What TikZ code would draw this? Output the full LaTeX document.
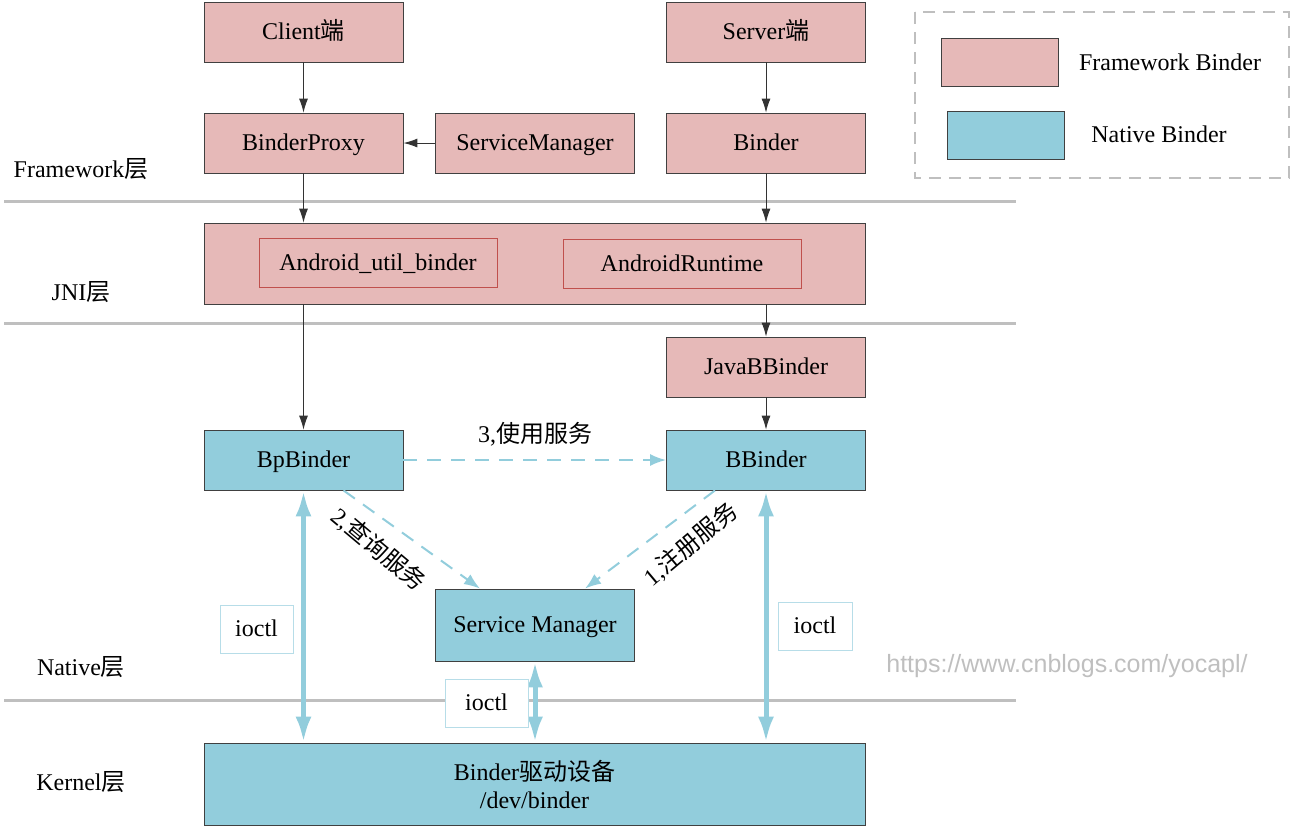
\documentclass[tikz,border=0pt]{standalone}
\usepackage{fontspec}
\setmainfont{Liberation Serif}
\newfontfamily\cjk{Noto Sans CJK SC}
\newfontfamily\urlfont{Liberation Sans}
\usepackage{tikz}
\usetikzlibrary{arrows.meta,positioning}
\definecolor{fwpink}{HTML}{E6B9B8}
\definecolor{ntblue}{HTML}{92CDDC}
\definecolor{lyrgray}{HTML}{BFBFBF}
\definecolor{boxred}{HTML}{C0504D}
\definecolor{ioblue}{HTML}{B7DDE8}
\newcommand{\zh}[1]{{\cjk #1}}
\tikzset{
	>=latex,                  % arrow tips
	txt/.style={font=\fontsize{12pt}{14pt}\selectfont, inner sep=0pt},
	line/.style={txt, text height=9.5pt, text depth=2pt},
	fwbox/.style={line, draw=black!75, fill=fwpink, minimum width=99.5pt, minimum height=30pt},
	ntbox/.style={line, draw=black!75, fill=ntblue, minimum width=99.5pt, minimum height=30pt},
	inbox/.style={line, draw=boxred, minimum width=119pt, minimum height=24.5pt},
	iobox/.style={line, draw=ioblue, fill=white, minimum height=24pt},
	arr/.style={-{Latex[length=7pt,width=4.5pt]}, draw=black!80, line width=0.5pt},
	call/.style={-{Latex[length=8pt,width=6pt]}, draw=ntblue, line width=1pt, dash pattern=on 7pt off 5pt},
	ioarr/.style={{Latex[length=13pt,width=8pt]}-{Latex[length=13pt,width=8pt]}, draw=ntblue, line width=2.5pt},
	layer/.style={draw=lyrgray, line width=1.5pt}
}

\begin{document}
\begin{tikzpicture}[x=0.5pt,y=-0.5pt]
	\useasboundingbox (0,0) rectangle (1291,826);
	
	% layer separators and names
	\foreach \y in {201,323,700}
		\draw[layer] (4,\y) -- (1016,\y);
	\foreach \name/\y in {Framework/170,JNI/293,Native/668,Kernel/783}
		\node[line] (lbl\name) at (81,\y) {\name\zh{层}};
	
	% framework layer
	\node[fwbox] (client) at (303.5,32) {Client\zh{端}};
	\node[fwbox] (server) at (766,32) {Server\zh{端}};
	\node[fwbox] (bproxy) at (303.5,143) {BinderProxy};
	\node[fwbox] (smj) at (535,143) {ServiceManager};
	\node[fwbox] (binder) at (766,143) {Binder};
	
	% jni layer
	\node[fwbox, minimum width=330.5pt, minimum height=40.5pt] (jni) at (534.5,263.5) {};
	\node[inbox] (aub) at (378,263) {Android\_util\_binder};
	\node[inbox] (art) at (682,264) {AndroidRuntime};
	\node[fwbox] (jbb) at (766,367) {JavaBBinder};
	
	% native layer
	\node[ntbox] (bp) at (303.5,460) {BpBinder};
	\node[ntbox] (bb) at (766,460) {BBinder};
	\node[ntbox, minimum height=36pt] (sm) at (535,625) {Service Manager};
	
	% kernel layer
	\node[txt, draw=black!75, fill=ntblue, minimum width=330.5pt, minimum height=41pt, align=center] (kern) at (534.5,784)
		{Binder\zh{驱动设备}\\/dev/binder};
	
	% java side calls
	\draw[arr] (client) -- (bproxy);
	\draw[arr] (server) -- (binder);
	\draw[arr] (smj) -- (bproxy);
	\draw[arr] (bproxy) -- (bproxy |- jni.north);
	\draw[arr] (binder) -- (binder |- jni.north);
	\draw[arr] (bproxy |- jni.south) -- (bp);
	\draw[arr] (binder |- jni.south) -- (jbb);
	\draw[arr] (jbb) -- (bb);
	
	% binder calls
	\draw[call] (bp) -- (bb);
	\node[line] (use) at (535,435) {3,\zh{使用服务}};
	\draw[call] ([xshift=20pt]bp.south) -- ([xshift=-27.5pt]sm.north);
	\node[line, rotate=-40] (query) at (378,550) {2,\zh{查询服务}};
	\draw[call] ([xshift=-25.5pt]bb.south) -- ([xshift=25pt]sm.north);
	\node[line, rotate=40] (reg) at (691,545) {1,\zh{注册服务}};
	
	% ioctl to driver
	\draw[ioarr] (bp) -- (bp |- kern.north);
	\draw[ioarr] (bb) -- (bb |- kern.north);
	\draw[ioarr] (sm) -- (sm |- kern.north);
	\node[iobox, minimum width=36.5pt] (io1) at (256.5,629) {ioctl};
	\node[iobox, minimum width=41.5pt] (io2) at (486.5,703) {ioctl};
	\node[iobox, minimum width=37pt] (io3) at (815,626) {ioctl};
	
	% legend
	\draw[lyrgray, line width=0.8pt, dash pattern=on 6pt off 4pt] (915,12) rectangle (1289,178);
	\node[fwbox, minimum width=58.5pt, minimum height=24pt] (lgfw) at (999.5,62) {};
	\node[ntbox, minimum width=58.5pt, minimum height=24pt] (lgnt) at (1005.5,135) {};
	\node[line] (lgfwtxt) at (1170,63) {Framework Binder};
	\node[line] (lgnttxt) at (1159,135) {Native Binder};
	
	% watermark
	\node[txt, font=\urlfont\fontsize{12.5pt}{14pt}\selectfont, text=black!25] (wm) at (1067,666) {https://www.cnblogs.com/yocapl/};
	
\end{tikzpicture}
\end{document}
